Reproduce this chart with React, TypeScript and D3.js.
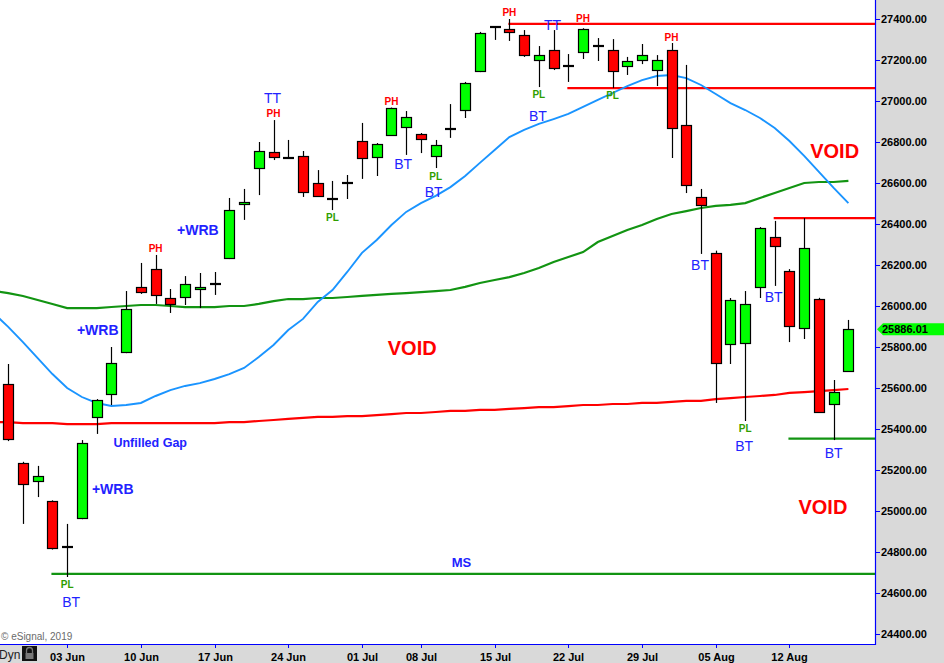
import React, { useEffect } from 'react';
import * as d3 from 'd3';

// ---------- data ----------
const dates = [
  '2019-05-28', '2019-05-29', '2019-05-30', '2019-05-31',
  '2019-06-03', '2019-06-04', '2019-06-05', '2019-06-06', '2019-06-07',
  '2019-06-10', '2019-06-11', '2019-06-12', '2019-06-13', '2019-06-14',
  '2019-06-17', '2019-06-18', '2019-06-19', '2019-06-20', '2019-06-21',
  '2019-06-24', '2019-06-25', '2019-06-26', '2019-06-27', '2019-06-28',
  '2019-07-01', '2019-07-02', '2019-07-03', '2019-07-05',
  '2019-07-08', '2019-07-09', '2019-07-10', '2019-07-11', '2019-07-12',
  '2019-07-15', '2019-07-16', '2019-07-17', '2019-07-18', '2019-07-19',
  '2019-07-22', '2019-07-23', '2019-07-24', '2019-07-25', '2019-07-26',
  '2019-07-29', '2019-07-30', '2019-07-31', '2019-08-01', '2019-08-02',
  '2019-08-05', '2019-08-06', '2019-08-07', '2019-08-08', '2019-08-09',
  '2019-08-12', '2019-08-13', '2019-08-14', '2019-08-15', '2019-08-16',
];

const open = [
  25620, 25234, 25146, 25049,
  24824, 24966, 25459, 25571, 25776,
  26093, 26180, 26039, 26044, 26083,
  26107, 26234, 26498, 26673, 26751,
  26722, 26732, 26600, 26522, 26600,
  26805, 26727, 26834, 26873,
  26839, 26732, 26863, 26956, 27146,
  27361, 27351, 27322, 27200, 27249,
  27171, 27239, 27268, 27249, 27171,
  27200, 27151, 27249, 26883, 26532,
  26259, 25815, 25820, 26093, 26337,
  26171, 25893, 26034, 25522, 25683,
];
const high = [
  25717, 25240, 25220, 25052,
  24937, 25346, 25546, 25800, 26073,
  26210, 26249, 26083, 26146, 26161,
  26166, 26527, 26571, 26800, 26907,
  26810, 26756, 26663, 26610, 26639,
  26893, 26795, 26968, 26951,
  26844, 26810, 26985, 27093, 27337,
  27364, 27400, 27346, 27268, 27346,
  27229, 27355, 27307, 27302, 27215,
  27278, 27224, 27283, 27176, 26571,
  26270, 26039, 26073, 26385, 26415,
  26180, 26429, 26040, 25639, 25932,
];
const low = [
  25341, 24937, 25068, 24812,
  24678, 24960, 25376, 25517, 25770,
  26059, 26010, 25966, 26005, 25990,
  26054, 26229, 26420, 26541, 26712,
  26718, 26532, 26532, 26468, 26522,
  26620, 26634, 26830, 26737,
  26746, 26673, 26820, 26917, 27141,
  27298, 27293, 27215, 27068, 27151,
  27093, 27205, 27195, 27063, 27127,
  27180, 27073, 26722, 26551, 26254,
  25527, 25717, 25439, 26039, 26098,
  25824, 25839, 25478, 25346, 25680,
];
const close = [
  25351, 25132, 25171, 24820,
  24824, 25332, 25541, 25722, 25985,
  26068, 26054, 26010, 26107, 26093,
  26107, 26468, 26507, 26756, 26727,
  26722, 26556, 26537, 26522, 26600,
  26722, 26790, 26966, 26922,
  26815, 26785, 26863, 27088, 27332,
  27361, 27337, 27224, 27224, 27161,
  27171, 27351, 27268, 27146, 27195,
  27224, 27200, 26868, 26590, 26493,
  25722, 26029, 26010, 26381, 26293,
  25902, 26283, 25483, 25580, 25886,
];

// moving averages start one session before the first candle (index -1)
const maStartIndex = -1;
const maBlue = [
  25966, 25898, 25824, 25746, 25668, 25600, 25556, 25527, 25512, 25517,
  25527, 25561, 25590, 25610, 25624, 25644, 25668, 25698, 25751, 25810,
  25883, 25937, 26020, 26078, 26166, 26259, 26322, 26395, 26459, 26502,
  26537, 26580, 26634, 26698, 26761, 26824, 26859, 26888, 26912, 26937,
  26971, 27005, 27039, 27073, 27102, 27122, 27127, 27112, 27078, 27034,
  26990, 26956, 26917, 26868, 26805, 26732, 26654, 26576, 26502,
];
const maGreen = [
  26073, 26063, 26049, 26029, 26010, 25990, 25990, 25990, 25995, 26000,
  26005, 26005, 26000, 25995, 25995, 25995, 26000, 26000, 26010, 26024,
  26034, 26034, 26039, 26039, 26044, 26049, 26054, 26059, 26063, 26068,
  26073, 26078, 26093, 26112, 26127, 26141, 26161, 26185, 26215, 26239,
  26263, 26312, 26341, 26371, 26395, 26424, 26449, 26463, 26478, 26488,
  26493, 26502, 26527, 26551, 26576, 26600, 26605, 26605, 26610,
];
const maRed = [
  25434, 25434, 25429, 25429, 25429, 25424, 25424, 25424, 25429, 25429,
  25429, 25429, 25429, 25429, 25429, 25429, 25434, 25434, 25439, 25444,
  25449, 25454, 25459, 25459, 25463, 25463, 25468, 25473, 25478, 25478,
  25483, 25488, 25488, 25493, 25493, 25498, 25502, 25507, 25507, 25512,
  25517, 25517, 25522, 25522, 25527, 25527, 25532, 25537, 25537, 25546,
  25551, 25556, 25561, 25566, 25576, 25580, 25585, 25590, 25595,
];

const priceTicks = [24400, 24600, 24800, 25000, 25200, 25400, 25600, 25800, 26000, 26200, 26400, 26600, 26800, 27000, 27200, 27400];
const dateTickDates = ['2019-06-03', '2019-06-10', '2019-06-17', '2019-06-24', '2019-07-01', '2019-07-08', '2019-07-15', '2019-07-22', '2019-07-29', '2019-08-05', '2019-08-12'];
const dateTickLabels = ['03 Jun', '10 Jun', '17 Jun', '24 Jun', '01 Jul', '08 Jul', '15 Jul', '22 Jul', '29 Jul', '05 Aug', '12 Aug'];

const lastPrice = 25886.01;

// horizontal levels
const levelPrices = [27376, 27063, 26429, 25353, 24693];
const levelStartDates = ['2019-07-16', '2019-07-22', '2019-08-09', '2019-08-12', '2019-05-31'];
const levelKinds = ['res', 'res', 'res', 'sup', 'sup'];

// annotations
const noteTexts = ['PL', 'BT', '+WRB', 'Unfilled Gap', '+WRB', '+WRB', 'PH', 'TT', 'PH', 'PL', 'PH', 'BT', 'PL', 'BT', 'PH', 'TT', 'PL', 'BT', 'PH', 'PL', 'PH', 'BT', 'BT', 'PL', 'BT', 'BT', 'VOID', 'VOID', 'VOID', 'MS'];
const noteDates = ['2019-06-03', '2019-06-03', '2019-06-04', '2019-06-06', '2019-06-04', '2019-06-13', '2019-06-11', '2019-06-21', '2019-06-21', '2019-06-27', '2019-07-03', '2019-07-05', '2019-07-09', '2019-07-09', '2019-07-16', '2019-07-19', '2019-07-18', '2019-07-18', '2019-07-23', '2019-07-25', '2019-07-31', '2019-08-02', '2019-08-09', '2019-08-07', '2019-08-07', '2019-08-15', '2019-07-05', '2019-08-15', '2019-08-14', '2019-07-10'];
const notePrices = [24644, 24556, 25107, 25332, 25883, 26371, 26283, 27015, 26941, 26434, 27000, 26693, 26634, 26556, 27434, 27371, 27034, 26927, 27405, 27029, 27312, 26200, 26044, 25405, 25317, 25283, 25795, 26756, 25020, 24751];
const noteKinds = ['pl', 'bt', 'wrb', 'gap', 'wrb', 'wrb', 'ph', 'bt', 'ph', 'pl', 'ph', 'bt', 'pl', 'bt', 'ph', 'bt', 'pl', 'bt', 'ph', 'pl', 'ph', 'bt', 'bt', 'pl', 'bt', 'bt', 'void', 'void', 'void', 'ms'];
const noteAnchors = ['middle', 'middle', 'start', 'start', 'start', 'start', 'middle', 'middle', 'middle', 'middle', 'middle', 'middle', 'middle', 'middle', 'middle', 'middle', 'middle', 'middle', 'middle', 'middle', 'middle', 'middle', 'middle', 'middle', 'middle', 'middle', 'middle', 'middle', 'middle', 'middle'];
const noteDx = [0, 4, 10, 2, -5, -8, 0, -1, 0, 0, 0, -3, 0, -2, 0, -1, 0, -1, 0, 0, 0, -1, -1, 0, -1, 0, 6, 1, 4, 11];

// ---------- styles ----------
const W = 944;
const H = 663;
const PLOT_R = 875;
const PLOT_B = 644;
const BG = '#d9d9d9';
const AXIS_BLUE = '#0000ff';
const FONT = "'Liberation Sans', Arial, Helvetica, sans-serif";
const UP = '#00ff00';
const DOWN = '#ff0000';
const MA_BLUE = '#1a94ff';
const MA_GREEN = '#129412';
const MA_RED = '#ff0000';

const noteStyle: Record<string, { fill: string; size: number; weight: string }> = {
  pl: { fill: '#2f9e00', size: 10, weight: 'bold' },
  ph: { fill: '#ff0000', size: 10, weight: 'bold' },
  bt: { fill: '#2222ff', size: 14, weight: 'normal' },
  wrb: { fill: '#2222ff', size: 14, weight: 'bold' },
  gap: { fill: '#2222ff', size: 12.5, weight: 'bold' },
  void: { fill: '#ff0000', size: 20, weight: 'bold' },
  ms: { fill: '#2222ff', size: 13, weight: 'bold' },
};

export default function App() {
  useEffect(() => {
    document.body.style.margin = '0';
  }, []);

  const x = d3.scaleLinear().domain([0, dates.length - 1]).range([8.2, 848.4]);
  const y = d3.scaleLinear().domain([24400, 27400]).range([634, 19]);
  const idx = (d: string) => dates.indexOf(d);
  const sx = (v: number) => Math.round(v) + 0.5;

  const maLine = d3
    .line<number>()
    .x((_, i) => x(i + maStartIndex))
    .y((d) => y(d));

  const lastY = y(lastPrice);

  return (
    <svg width={W} height={H} style={{ position: 'absolute', left: 0, top: 0, display: 'block' }} fontFamily={FONT}>
      <defs>
        <clipPath id="plotClip">
          <rect x={0} y={0} width={PLOT_R} height={PLOT_B} />
        </clipPath>
      </defs>
      <rect x={0} y={0} width={W} height={H} fill={BG} />
      <rect x={0} y={0} width={PLOT_R} height={PLOT_B} fill="#ffffff" />

      <g clipPath="url(#plotClip)">
        {/* horizontal levels */}
        {levelPrices.map((p, k) => (
          <line
            key={'lv' + k}
            x1={x(idx(levelStartDates[k])) - 1}
            x2={PLOT_R}
            y1={y(p)}
            y2={y(p)}
            stroke={levelKinds[k] === 'res' ? '#ff0000' : MA_GREEN}
            strokeWidth={2.2}
          />
        ))}

        {/* moving averages */}
        <path d={maLine(maRed) || ''} fill="none" stroke={MA_RED} strokeWidth={2.2} />
        <path d={maLine(maGreen) || ''} fill="none" stroke={MA_GREEN} strokeWidth={2.2} />
        <path d={maLine(maBlue) || ''} fill="none" stroke={MA_BLUE} strokeWidth={1.9} />

        {/* candles */}
        {dates.map((d, i) => {
          const cx = sx(x(i));
          const o = open[i];
          const c = close[i];
          const yo = y(o);
          const yc = y(c);
          const doji = o === c;
          const top = Math.round(Math.min(yo, yc)) + 0.5;
          const bot = Math.round(Math.max(yo, yc)) + 0.5;
          return (
            <g key={d}>
              <line x1={cx} x2={cx} y1={y(high[i])} y2={y(low[i])} stroke="#000" strokeWidth={1.2} />
              {doji ? (
                <line x1={cx - 5.5} x2={cx + 5.5} y1={Math.round(yo)} y2={Math.round(yo)} stroke="#000" strokeWidth={2.2} />
              ) : (
                <rect
                  x={cx - 5}
                  y={top}
                  width={10}
                  height={Math.max(1, bot - top)}
                  fill={c > o ? UP : DOWN}
                  stroke="#000"
                  strokeWidth={1.2}
                />
              )}
            </g>
          );
        })}

        {/* annotations */}
        {noteTexts.map((t, k) => {
          const st = noteStyle[noteKinds[k]];
          return (
            <text
              key={'n' + k}
              x={x(idx(noteDates[k])) + noteDx[k]}
              y={y(notePrices[k])}
              dy="0.36em"
              textAnchor={noteAnchors[k] as any}
              fill={st.fill}
              fontSize={st.size}
              fontWeight={st.weight}
            >
              {t}
            </text>
          );
        })}

        <text x={1} y={636} dy="0.35em" fontSize={10} fill="#6b6b6b">
          © eSignal, 2019
        </text>
      </g>

      {/* plot frame */}
      <line x1={PLOT_R + 0.5} x2={PLOT_R + 0.5} y1={0} y2={PLOT_B + 1} stroke={AXIS_BLUE} strokeWidth={1.2} />
      <line x1={0} x2={PLOT_R + 1} y1={PLOT_B + 0.5} y2={PLOT_B + 0.5} stroke={AXIS_BLUE} strokeWidth={1.2} />

      {/* price axis */}
      {priceTicks.map((v) => (
        <g key={'pt' + v}>
          <line x1={PLOT_R} x2={PLOT_R + 5} y1={sx(y(v))} y2={sx(y(v))} stroke={AXIS_BLUE} strokeWidth={1} />
          <text x={PLOT_R + 6} y={y(v)} dy="0.36em" fontSize={11} fontWeight="bold" fill="#000">
            {v.toFixed(2)}
          </text>
        </g>
      ))}

      {/* last price flag */}
      <polygon
        points={`${PLOT_R + 2},${lastY} ${PLOT_R + 8},${lastY - 6} ${W},${lastY - 6} ${W},${lastY + 6} ${PLOT_R + 8},${lastY + 6}`}
        fill="#00ff00"
      />
      <text x={PLOT_R + 7} y={lastY} dy="0.36em" fontSize={11} fontWeight="bold" fill="#000">
        {lastPrice.toFixed(2)}
      </text>

      {/* date axis */}
      {dateTickDates.map((d, k) => {
        const tx = sx(x(idx(d)));
        return (
          <g key={'dt' + d}>
            <line x1={tx} x2={tx} y1={PLOT_B} y2={PLOT_B + 4} stroke={AXIS_BLUE} strokeWidth={1} />
            <text x={tx} y={657} dy="0.36em" textAnchor="middle" fontSize={11} fontWeight="bold" fill="#000">
              {dateTickLabels[k]}
            </text>
          </g>
        );
      })}

      {/* Dyn + lock icon */}
      <text x={-1} y={655} dy="0.36em" fontSize={12} fill="#222">
        Dyn
      </text>
      <rect x={22} y={646} width={15} height={15} fill="#111" />
      <path d="M26.5,653 v-2.5 a3,3 0 0 1 6,0 v2.5" fill="none" stroke="#777" strokeWidth={1.3} />
      <rect x={25.5} y={653} width={8} height={6} fill="#777" />
    </svg>
  );
}
